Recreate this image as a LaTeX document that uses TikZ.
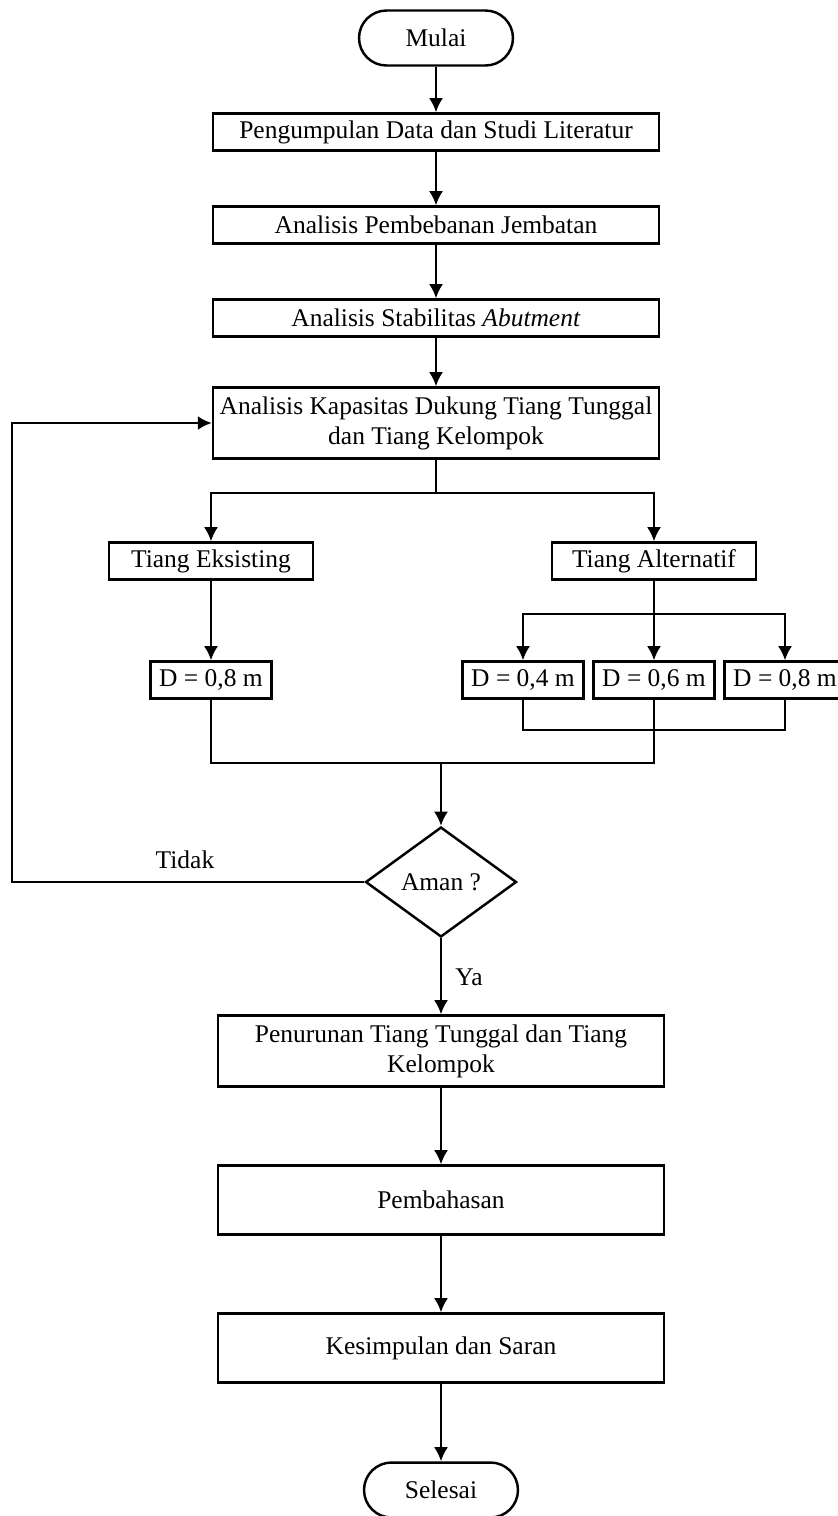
\documentclass[tikz,border=0pt]{standalone}
\usepackage{fontspec}
\setmainfont{Liberation Serif}
\usetikzlibrary{shapes.geometric,arrows.meta}
\begin{document}
\begin{tikzpicture}[x=0.02cm, y=-0.02cm, line width=1.4pt]
    \tikzstyle{every node}=[font=\fontsize{14.5}{17}\selectfont, align=center]
    \tikzset{
        box/.style={draw, inner sep=1pt, minimum height=0.74cm, minimum width=8.92cm},
        box2/.style={box, minimum height=1.42cm},
        term/.style={draw, rounded corners=0.55cm, inner sep=1pt, minimum height=1.1cm, minimum width=3.08cm},
        tbox/.style={box, minimum width=4.08cm},
        dbox/.style={box, minimum width=2.42cm},
        dec/.style={draw, diamond, aspect=1.37, inner sep=0pt, minimum width=3.02cm, minimum height=2.2cm},
        arr/.style={-{Latex[length=8pt,width=8pt]}}
        }
    \useasboundingbox (0,0) rectangle (838,1516);

    %start
    \node (mulai) [term] at (436,38) {Mulai};

    %analysis steps
    \node (pengumpulan) [box] at (436,132) {Pengumpulan Data dan Studi Literatur};
    \node (pembebanan) [box] at (436,225) {Analisis Pembebanan Jembatan};
    \node (stabilitas) [box] at (436,318) {Analisis Stabilitas \textit{Abutment}};
    \node (kapasitas) [box2] at (436,423) {Analisis Kapasitas Dukung Tiang Tunggal\\dan Tiang Kelompok};

    %piles
    \node (eksisting) [tbox] at (211,561) {Tiang Eksisting};
    \node (alternatif) [tbox] at (654,561) {Tiang Alternatif};

    %diameters
    \node (d08a) [dbox] at (211,680) {D = 0,8 m};
    \node (d04) [dbox] at (523,680) {D = 0,4 m};
    \node (d06) [dbox] at (654,680) {D = 0,6 m};
    \node (d08b) [dbox] at (785,680) {D = 0,8 m};

    %check
    \node (aman) [dec] at (441,882) {Aman ?};
    \node (tidak) at (185,860) {Tidak};
    \node (ya) at (469,977) {Ya};

    %end steps
    \node (penurunan) [box2] at (441,1051) {Penurunan Tiang Tunggal dan Tiang\\Kelompok};
    \node (pembahasan) [box, minimum height=1.38cm] at (441,1200) {Pembahasan};
    \node (kesimpulan) [box, minimum height=1.38cm] at (441,1348) {Kesimpulan dan Saran};
    \node (selesai) [term] at (441,1490) {Selesai};

    \coordinate (split1) at (436,493);
    \coordinate (split2) at (654,614);
    \coordinate (join1) at (654,730);
    \coordinate (join2) at (441,763);
    \coordinate (loop) at (12,882);

    \draw[arr] (mulai) -- (pengumpulan);
    \draw[arr] (pengumpulan) -- (pembebanan);
    \draw[arr] (pembebanan) -- (stabilitas);
    \draw[arr] (stabilitas) -- (kapasitas);

    \draw (kapasitas.south) -- (split1);
    \draw[arr] (split1) -| (eksisting.north);
    \draw[arr] (split1) -| (alternatif.north);

    \draw[arr] (eksisting) -- (d08a);
    \draw (alternatif.south) -- (split2);
    \draw[arr] (split2) -| (d04.north);
    \draw[arr] (split2) -- (d06.north);
    \draw[arr] (split2) -| (d08b.north);

    \draw (d04.south) |- (join1) -| (d08b.south);
    \draw (d06.south) |- (join2);
    \draw (d08a.south) |- (join2);
    \draw[arr] (join2) -- (aman.north);

    % loop back
    \draw[arr] (aman.west) -- (loop) |- (kapasitas.west);

    \draw[arr] (aman.south) -- (penurunan.north);
    \draw[arr] (penurunan) -- (pembahasan);
    \draw[arr] (pembahasan) -- (kesimpulan);
    \draw[arr] (kesimpulan) -- (selesai);
\end{tikzpicture}
\end{document}
